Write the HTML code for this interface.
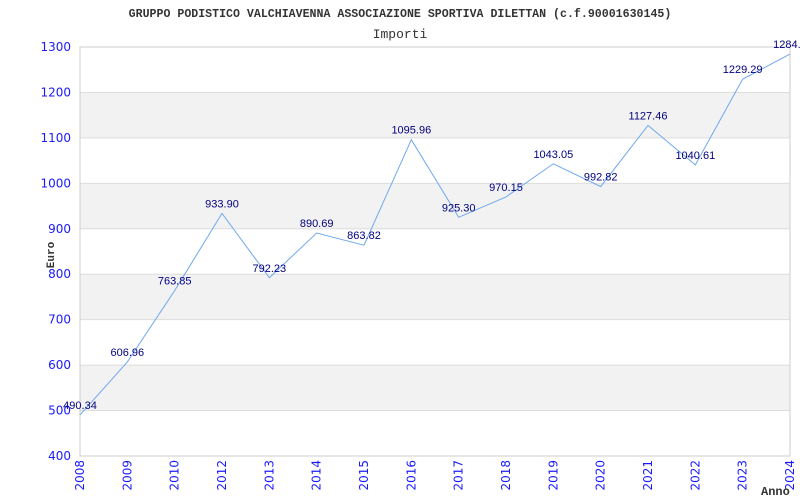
<!DOCTYPE html>
<html><head><meta charset="utf-8"><style>
body{margin:0;background:#fff}
svg{display:block}
</style></head><body>
<svg id="chart" width="800" height="500" xmlns="http://www.w3.org/2000/svg">
<text x="400" y="17" text-anchor="middle" font-family="Liberation Mono, monospace" font-weight="bold" font-size="11.6" fill="#333">GRUPPO PODISTICO VALCHIAVENNA ASSOCIAZIONE SPORTIVA DILETTAN (c.f.90001630145)</text>
<text x="400" y="38" text-anchor="middle" font-family="Liberation Mono, monospace" font-size="13" fill="#333">Importi</text>
<g id="bands"></g>
<g id="yaxis"></g>
<g id="xaxis"></g>
<polyline id="line" fill="none" stroke="#6fa8ee" stroke-width="1"/>
<g id="vals"></g>
<text transform="translate(54,255) rotate(-90)" text-anchor="middle" font-family="Liberation Mono, monospace" font-weight="bold" font-size="11" fill="#333">Euro</text>
<text x="761" y="495" font-family="Liberation Mono, monospace" font-weight="bold" font-size="12" fill="#333">Anno</text>
</svg>
<script>
const xLabels=["2008","2009","2010","2012","2013","2014","2015","2016","2017","2018","2019","2020","2021","2022","2023","2024"];
const values=[490.34,606.96,763.85,933.90,792.23,890.69,863.82,1095.96,925.30,970.15,1043.05,992.82,1127.46,1040.61,1229.29,1284.4];
const valueLabels=["490.34","606.96","763.85","933.90","792.23","890.69","863.82","1095.96","925.30","970.15","1043.05","992.82","1127.46","1040.61","1229.29","1284.4"];
const yTicks=[400,500,600,700,800,900,1000,1100,1200,1300];
const L=80,R=790,T=47,B=456,yMin=400,yMax=1300;
const NS="http://www.w3.org/2000/svg";
const xs=i=>L+i*(R-L)/(xLabels.length-1);
const ys=v=>B-(v-yMin)/(yMax-yMin)*(B-T);
function mk(tag,attrs,parent,txt){const e=document.createElementNS(NS,tag);for(const k in attrs)e.setAttribute(k,attrs[k]);if(txt!=null)e.textContent=txt;document.getElementById(parent).appendChild(e);return e;}
for(let i=0;i<yTicks.length-1;i++){
  const a=yTicks[i],b=yTicks[i+1];
  const r=mk('rect',{x:L,y:ys(b),width:R-L,height:ys(a)-ys(b),fill:(i%2==1)?'#f2f2f2':'#fff'},'bands');
  
  
}
yTicks.forEach(v=>{
  const l=mk('line',{x1:L,x2:R,y1:ys(v),y2:ys(v),stroke:'#ddd'},'yaxis');
  
  
  const t=mk('text',{x:71,y:ys(v)+4,'text-anchor':'end','font-family':'DejaVu Sans, sans-serif','font-size':'12',fill:'#1a1aff'},'yaxis',String(v));
  
  
});
const fr=mk('rect',{x:L,y:T,width:R-L,height:B-T,fill:'none',stroke:'#ccc'},'yaxis');


xLabels.forEach((s,i)=>{
  const t=mk('text',{transform:`translate(${xs(i)+4},460) rotate(-90)`,'text-anchor':'end','font-family':'DejaVu Sans, sans-serif','font-size':'12',fill:'#1a1aff'},'xaxis',s);
  
  
});
document.getElementById('line').setAttribute('points',values.map((v,i)=>xs(i)+','+ys(v)).join(' '));
values.forEach((v,i)=>{
  const t=mk('text',{x:xs(i),y:ys(v)-6,'text-anchor':'middle','font-family':'Liberation Sans, sans-serif','font-size':'11',fill:'#000080'},'vals',valueLabels[i]);
  
  
});
</script>
</body></html>
